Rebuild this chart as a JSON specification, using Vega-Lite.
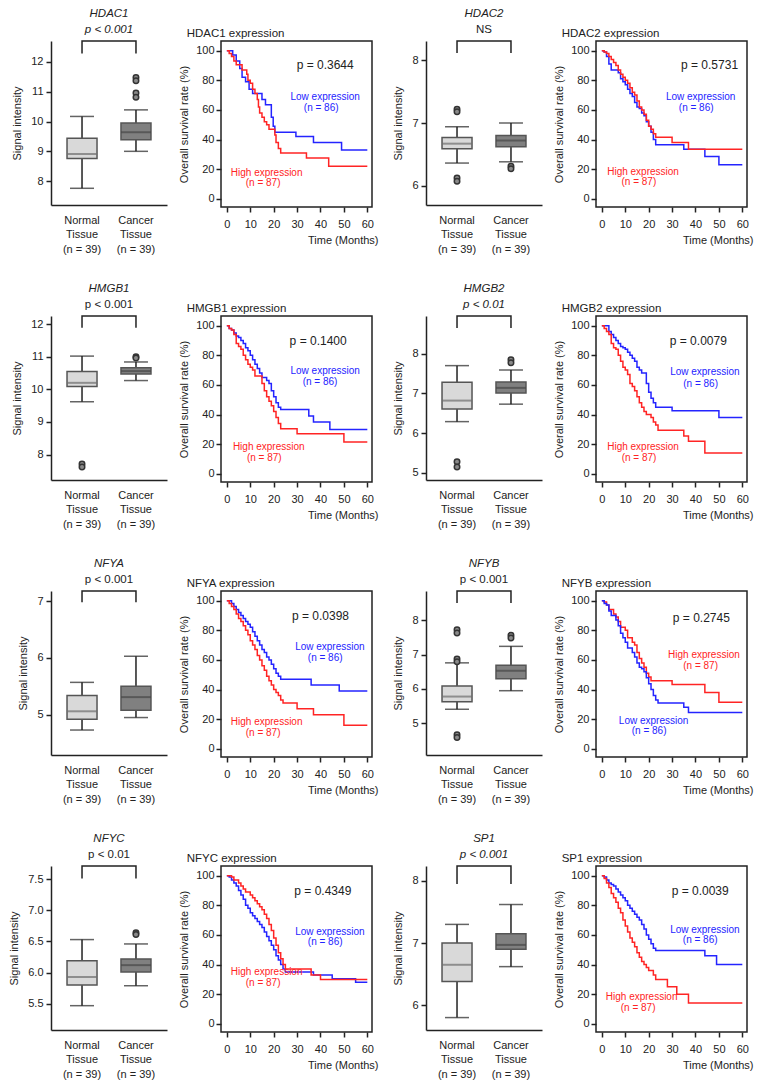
{
"$schema":"https://vega.github.io/schema/vega-lite/v6.json",
"padding":{"left":8,"top":8,"right":2,"bottom":2},
"config":{"font":"Liberation Sans","view":{"stroke":null},
 "axis":{"labelFontSize":11,"labelColor":"#222","titleFontSize":11,"titleFontWeight":"normal","titleColor":"#222","domainColor":"#222","tickColor":"#222","domainWidth":1.5,"tickWidth":1.5,"tickSize":5,"grid":false,"labelFont":"Liberation Sans","titleFont":"Liberation Sans"},
 "title":{"fontSize":11.5,"fontWeight":"normal","subtitleFontSize":11.5,"color":"#222","subtitleColor":"#222","offset":3,"subtitlePadding":4,"font":"Liberation Sans","subtitleFont":"Liberation Sans"}},
"resolve":{"scale":{"color":"independent","fill":"independent"}},
"datasets":{
"box":[
{"gene":"HDAC1","g":"Normal","lo":7.76,"q1":8.76,"med":8.91,"q3":9.44,"hi":10.17},
{"gene":"HDAC1","g":"Cancer","lo":9.0,"q1":9.39,"med":9.64,"q3":9.95,"hi":10.39},
{"gene":"HDAC2","g":"Normal","lo":6.36,"q1":6.59,"med":6.67,"q3":6.77,"hi":6.94},
{"gene":"HDAC2","g":"Cancer","lo":6.38,"q1":6.62,"med":6.72,"q3":6.8,"hi":7.0},
{"gene":"HMGB1","g":"Normal","lo":9.62,"q1":10.09,"med":10.2,"q3":10.55,"hi":11.02},
{"gene":"HMGB1","g":"Cancer","lo":10.27,"q1":10.47,"med":10.56,"q3":10.66,"hi":10.84},
{"gene":"HMGB2","g":"Normal","lo":6.29,"q1":6.61,"med":6.82,"q3":7.28,"hi":7.7},
{"gene":"HMGB2","g":"Cancer","lo":6.73,"q1":7.01,"med":7.14,"q3":7.29,"hi":7.59},
{"gene":"NFYA","g":"Normal","lo":4.73,"q1":4.92,"med":5.06,"q3":5.34,"hi":5.57},
{"gene":"NFYA","g":"Cancer","lo":4.95,"q1":5.08,"med":5.31,"q3":5.5,"hi":6.03},
{"gene":"NFYB","g":"Normal","lo":5.41,"q1":5.63,"med":5.78,"q3":6.09,"hi":6.76},
{"gene":"NFYB","g":"Cancer","lo":5.95,"q1":6.3,"med":6.53,"q3":6.69,"hi":7.24},
{"gene":"NFYC","g":"Normal","lo":5.47,"q1":5.8,"med":5.93,"q3":6.19,"hi":6.53},
{"gene":"NFYC","g":"Cancer","lo":5.79,"q1":6.01,"med":6.12,"q3":6.22,"hi":6.46},
{"gene":"SP1","g":"Normal","lo":5.8,"q1":6.38,"med":6.65,"q3":7.0,"hi":7.3},
{"gene":"SP1","g":"Cancer","lo":6.62,"q1":6.9,"med":6.97,"q3":7.15,"hi":7.62}],
"out":[
{"gene":"HDAC1","g":"Cancer","v":11.48},{"gene":"HDAC1","g":"Cancer","v":11.37},{"gene":"HDAC1","g":"Cancer","v":10.96},{"gene":"HDAC1","g":"Cancer","v":10.81},
{"gene":"HDAC2","g":"Normal","v":7.22},{"gene":"HDAC2","g":"Normal","v":7.18},{"gene":"HDAC2","g":"Normal","v":6.12},{"gene":"HDAC2","g":"Normal","v":6.07},{"gene":"HDAC2","g":"Cancer","v":6.31},{"gene":"HDAC2","g":"Cancer","v":6.27},
{"gene":"HMGB1","g":"Normal","v":7.71},{"gene":"HMGB1","g":"Normal","v":7.62},{"gene":"HMGB1","g":"Cancer","v":11.0},{"gene":"HMGB1","g":"Cancer","v":10.96},
{"gene":"HMGB2","g":"Normal","v":5.28},{"gene":"HMGB2","g":"Normal","v":5.15},{"gene":"HMGB2","g":"Cancer","v":7.85},{"gene":"HMGB2","g":"Cancer","v":7.77},
{"gene":"NFYB","g":"Normal","v":7.72},{"gene":"NFYB","g":"Normal","v":7.63},{"gene":"NFYB","g":"Normal","v":6.87},{"gene":"NFYB","g":"Normal","v":6.79},{"gene":"NFYB","g":"Normal","v":4.67},{"gene":"NFYB","g":"Normal","v":4.59},{"gene":"NFYB","g":"Cancer","v":7.56},{"gene":"NFYB","g":"Cancer","v":7.48},
{"gene":"NFYC","g":"Cancer","v":6.64},{"gene":"NFYC","g":"Cancer","v":6.61}],
"brk":[
{"gene":"HDAC1","g":"Normal","o":1,"v":12.28},{"gene":"HDAC1","g":"Normal","o":2,"v":12.7},{"gene":"HDAC1","g":"Cancer","o":3,"v":12.7},{"gene":"HDAC1","g":"Cancer","o":4,"v":12.28},
{"gene":"HDAC2","g":"Normal","o":1,"v":8.12},{"gene":"HDAC2","g":"Normal","o":2,"v":8.31},{"gene":"HDAC2","g":"Cancer","o":3,"v":8.31},{"gene":"HDAC2","g":"Cancer","o":4,"v":8.12},
{"gene":"HMGB1","g":"Normal","o":1,"v":11.89},{"gene":"HMGB1","g":"Normal","o":2,"v":12.25},{"gene":"HMGB1","g":"Cancer","o":3,"v":12.25},{"gene":"HMGB1","g":"Cancer","o":4,"v":11.89},
{"gene":"HMGB2","g":"Normal","o":1,"v":8.65},{"gene":"HMGB2","g":"Normal","o":2,"v":8.95},{"gene":"HMGB2","g":"Cancer","o":3,"v":8.95},{"gene":"HMGB2","g":"Cancer","o":4,"v":8.65},
{"gene":"NFYA","g":"Normal","o":1,"v":6.98},{"gene":"NFYA","g":"Normal","o":2,"v":7.18},{"gene":"NFYA","g":"Cancer","o":3,"v":7.18},{"gene":"NFYA","g":"Cancer","o":4,"v":6.98},
{"gene":"NFYB","g":"Normal","o":1,"v":8.5},{"gene":"NFYB","g":"Normal","o":2,"v":8.85},{"gene":"NFYB","g":"Cancer","o":3,"v":8.85},{"gene":"NFYB","g":"Cancer","o":4,"v":8.5},
{"gene":"NFYC","g":"Normal","o":1,"v":7.51},{"gene":"NFYC","g":"Normal","o":2,"v":7.71},{"gene":"NFYC","g":"Cancer","o":3,"v":7.71},{"gene":"NFYC","g":"Cancer","o":4,"v":7.51},
{"gene":"SP1","g":"Normal","o":1,"v":7.95},{"gene":"SP1","g":"Normal","o":2,"v":8.24},{"gene":"SP1","g":"Cancer","o":3,"v":8.24},{"gene":"SP1","g":"Cancer","o":4,"v":7.95}],
"km":[
{"gene":"HDAC1","grp":"Low","t":0,"s":100},{"gene":"HDAC1","grp":"Low","t":2.5,"s":97},{"gene":"HDAC1","grp":"Low","t":4,"s":93},{"gene":"HDAC1","grp":"Low","t":5.5,"s":88},{"gene":"HDAC1","grp":"Low","t":6.5,"s":82},{"gene":"HDAC1","grp":"Low","t":8,"s":79},{"gene":"HDAC1","grp":"Low","t":9.5,"s":74},{"gene":"HDAC1","grp":"Low","t":11,"s":71},{"gene":"HDAC1","grp":"Low","t":15,"s":67},{"gene":"HDAC1","grp":"Low","t":16.5,"s":63.5},{"gene":"HDAC1","grp":"Low","t":19,"s":55},{"gene":"HDAC1","grp":"Low","t":19.8,"s":49},{"gene":"HDAC1","grp":"Low","t":20.5,"s":45},{"gene":"HDAC1","grp":"Low","t":29.5,"s":42},{"gene":"HDAC1","grp":"Low","t":37,"s":38},{"gene":"HDAC1","grp":"Low","t":49,"s":33},{"gene":"HDAC1","grp":"Low","t":60,"s":33},
{"gene":"HDAC1","grp":"High","t":0,"s":100},{"gene":"HDAC1","grp":"High","t":1,"s":98},{"gene":"HDAC1","grp":"High","t":2,"s":96},{"gene":"HDAC1","grp":"High","t":3,"s":93},{"gene":"HDAC1","grp":"High","t":4,"s":90.5},{"gene":"HDAC1","grp":"High","t":6.5,"s":87},{"gene":"HDAC1","grp":"High","t":8.5,"s":84},{"gene":"HDAC1","grp":"High","t":9,"s":80},{"gene":"HDAC1","grp":"High","t":10,"s":78},{"gene":"HDAC1","grp":"High","t":11,"s":74},{"gene":"HDAC1","grp":"High","t":12,"s":71},{"gene":"HDAC1","grp":"High","t":13,"s":67},{"gene":"HDAC1","grp":"High","t":13.5,"s":62},{"gene":"HDAC1","grp":"High","t":14,"s":58},{"gene":"HDAC1","grp":"High","t":15,"s":55},{"gene":"HDAC1","grp":"High","t":16,"s":52},{"gene":"HDAC1","grp":"High","t":17,"s":50},{"gene":"HDAC1","grp":"High","t":18,"s":47},{"gene":"HDAC1","grp":"High","t":20.5,"s":43},{"gene":"HDAC1","grp":"High","t":21,"s":38},{"gene":"HDAC1","grp":"High","t":22,"s":34},{"gene":"HDAC1","grp":"High","t":23,"s":31},{"gene":"HDAC1","grp":"High","t":34,"s":27.5},{"gene":"HDAC1","grp":"High","t":43.5,"s":22},{"gene":"HDAC1","grp":"High","t":60,"s":22},
{"gene":"HDAC2","grp":"Low","t":0,"s":100},{"gene":"HDAC2","grp":"Low","t":1,"s":99},{"gene":"HDAC2","grp":"Low","t":2,"s":96},{"gene":"HDAC2","grp":"Low","t":3,"s":91},{"gene":"HDAC2","grp":"Low","t":4,"s":87},{"gene":"HDAC2","grp":"Low","t":7,"s":85},{"gene":"HDAC2","grp":"Low","t":8,"s":81},{"gene":"HDAC2","grp":"Low","t":9,"s":79},{"gene":"HDAC2","grp":"Low","t":10,"s":77},{"gene":"HDAC2","grp":"Low","t":11,"s":74},{"gene":"HDAC2","grp":"Low","t":12,"s":71},{"gene":"HDAC2","grp":"Low","t":13,"s":69},{"gene":"HDAC2","grp":"Low","t":14,"s":65},{"gene":"HDAC2","grp":"Low","t":15,"s":62},{"gene":"HDAC2","grp":"Low","t":16,"s":61},{"gene":"HDAC2","grp":"Low","t":17,"s":58},{"gene":"HDAC2","grp":"Low","t":18,"s":56},{"gene":"HDAC2","grp":"Low","t":19,"s":52},{"gene":"HDAC2","grp":"Low","t":20,"s":49},{"gene":"HDAC2","grp":"Low","t":21,"s":45},{"gene":"HDAC2","grp":"Low","t":22,"s":40},{"gene":"HDAC2","grp":"Low","t":23,"s":36.5},{"gene":"HDAC2","grp":"Low","t":35,"s":33.5},{"gene":"HDAC2","grp":"Low","t":44,"s":28.5},{"gene":"HDAC2","grp":"Low","t":50,"s":23},{"gene":"HDAC2","grp":"Low","t":60,"s":23},
{"gene":"HDAC2","grp":"High","t":0,"s":100},{"gene":"HDAC2","grp":"High","t":1,"s":99},{"gene":"HDAC2","grp":"High","t":2,"s":98},{"gene":"HDAC2","grp":"High","t":3,"s":96},{"gene":"HDAC2","grp":"High","t":4,"s":94},{"gene":"HDAC2","grp":"High","t":5,"s":92},{"gene":"HDAC2","grp":"High","t":6,"s":90},{"gene":"HDAC2","grp":"High","t":7,"s":87},{"gene":"HDAC2","grp":"High","t":8,"s":84},{"gene":"HDAC2","grp":"High","t":9,"s":82},{"gene":"HDAC2","grp":"High","t":10,"s":80},{"gene":"HDAC2","grp":"High","t":11,"s":78},{"gene":"HDAC2","grp":"High","t":12,"s":75},{"gene":"HDAC2","grp":"High","t":13,"s":72},{"gene":"HDAC2","grp":"High","t":14,"s":70},{"gene":"HDAC2","grp":"High","t":15,"s":66},{"gene":"HDAC2","grp":"High","t":16,"s":62},{"gene":"HDAC2","grp":"High","t":17,"s":60},{"gene":"HDAC2","grp":"High","t":18,"s":57},{"gene":"HDAC2","grp":"High","t":19,"s":53},{"gene":"HDAC2","grp":"High","t":20,"s":49},{"gene":"HDAC2","grp":"High","t":21,"s":47},{"gene":"HDAC2","grp":"High","t":22,"s":44},{"gene":"HDAC2","grp":"High","t":23,"s":41.5},{"gene":"HDAC2","grp":"High","t":30,"s":38},{"gene":"HDAC2","grp":"High","t":37,"s":33.5},{"gene":"HDAC2","grp":"High","t":60,"s":33.5},
{"gene":"HMGB1","grp":"Low","t":0,"s":100},{"gene":"HMGB1","grp":"Low","t":1,"s":98},{"gene":"HMGB1","grp":"Low","t":2,"s":97},{"gene":"HMGB1","grp":"Low","t":3,"s":95},{"gene":"HMGB1","grp":"Low","t":4,"s":93},{"gene":"HMGB1","grp":"Low","t":5,"s":92},{"gene":"HMGB1","grp":"Low","t":6,"s":90},{"gene":"HMGB1","grp":"Low","t":7,"s":88},{"gene":"HMGB1","grp":"Low","t":8,"s":85},{"gene":"HMGB1","grp":"Low","t":9,"s":83},{"gene":"HMGB1","grp":"Low","t":10,"s":80},{"gene":"HMGB1","grp":"Low","t":11,"s":77},{"gene":"HMGB1","grp":"Low","t":12,"s":74},{"gene":"HMGB1","grp":"Low","t":13,"s":71},{"gene":"HMGB1","grp":"Low","t":14,"s":68},{"gene":"HMGB1","grp":"Low","t":15,"s":65},{"gene":"HMGB1","grp":"Low","t":17,"s":63},{"gene":"HMGB1","grp":"Low","t":18,"s":61},{"gene":"HMGB1","grp":"Low","t":19,"s":56},{"gene":"HMGB1","grp":"Low","t":20,"s":52},{"gene":"HMGB1","grp":"Low","t":21,"s":48},{"gene":"HMGB1","grp":"Low","t":22,"s":45},{"gene":"HMGB1","grp":"Low","t":23,"s":43.5},{"gene":"HMGB1","grp":"Low","t":35,"s":39},{"gene":"HMGB1","grp":"Low","t":37,"s":35},{"gene":"HMGB1","grp":"Low","t":44,"s":30},{"gene":"HMGB1","grp":"Low","t":60,"s":30},
{"gene":"HMGB1","grp":"High","t":0,"s":100},{"gene":"HMGB1","grp":"High","t":1,"s":98},{"gene":"HMGB1","grp":"High","t":2,"s":97},{"gene":"HMGB1","grp":"High","t":3,"s":94},{"gene":"HMGB1","grp":"High","t":4,"s":88},{"gene":"HMGB1","grp":"High","t":5,"s":86},{"gene":"HMGB1","grp":"High","t":6,"s":84},{"gene":"HMGB1","grp":"High","t":7,"s":80},{"gene":"HMGB1","grp":"High","t":8,"s":77},{"gene":"HMGB1","grp":"High","t":9,"s":74},{"gene":"HMGB1","grp":"High","t":10,"s":72},{"gene":"HMGB1","grp":"High","t":11,"s":70},{"gene":"HMGB1","grp":"High","t":12,"s":66},{"gene":"HMGB1","grp":"High","t":15,"s":61},{"gene":"HMGB1","grp":"High","t":16,"s":56},{"gene":"HMGB1","grp":"High","t":17,"s":52},{"gene":"HMGB1","grp":"High","t":18,"s":49},{"gene":"HMGB1","grp":"High","t":19,"s":46},{"gene":"HMGB1","grp":"High","t":20,"s":42},{"gene":"HMGB1","grp":"High","t":21,"s":38},{"gene":"HMGB1","grp":"High","t":22,"s":34},{"gene":"HMGB1","grp":"High","t":23,"s":30.5},{"gene":"HMGB1","grp":"High","t":30,"s":27},{"gene":"HMGB1","grp":"High","t":50,"s":21.5},{"gene":"HMGB1","grp":"High","t":60,"s":21.5},
{"gene":"HMGB2","grp":"Low","t":0,"s":100},{"gene":"HMGB2","grp":"Low","t":3,"s":96},{"gene":"HMGB2","grp":"Low","t":4,"s":94},{"gene":"HMGB2","grp":"Low","t":5,"s":92},{"gene":"HMGB2","grp":"Low","t":6,"s":90},{"gene":"HMGB2","grp":"Low","t":7,"s":88},{"gene":"HMGB2","grp":"Low","t":8,"s":86},{"gene":"HMGB2","grp":"Low","t":9,"s":85},{"gene":"HMGB2","grp":"Low","t":10,"s":84},{"gene":"HMGB2","grp":"Low","t":11,"s":82},{"gene":"HMGB2","grp":"Low","t":12,"s":80},{"gene":"HMGB2","grp":"Low","t":13,"s":78},{"gene":"HMGB2","grp":"Low","t":14,"s":76},{"gene":"HMGB2","grp":"Low","t":15,"s":72},{"gene":"HMGB2","grp":"Low","t":16,"s":70},{"gene":"HMGB2","grp":"Low","t":17,"s":68},{"gene":"HMGB2","grp":"Low","t":19,"s":61},{"gene":"HMGB2","grp":"Low","t":20,"s":55},{"gene":"HMGB2","grp":"Low","t":21,"s":51},{"gene":"HMGB2","grp":"Low","t":22,"s":48},{"gene":"HMGB2","grp":"Low","t":23,"s":45},{"gene":"HMGB2","grp":"Low","t":30,"s":42.5},{"gene":"HMGB2","grp":"Low","t":50,"s":38},{"gene":"HMGB2","grp":"Low","t":60,"s":38},
{"gene":"HMGB2","grp":"High","t":0,"s":100},{"gene":"HMGB2","grp":"High","t":1,"s":98},{"gene":"HMGB2","grp":"High","t":2,"s":96},{"gene":"HMGB2","grp":"High","t":3,"s":94},{"gene":"HMGB2","grp":"High","t":4,"s":88},{"gene":"HMGB2","grp":"High","t":5,"s":85},{"gene":"HMGB2","grp":"High","t":6,"s":84},{"gene":"HMGB2","grp":"High","t":7,"s":80},{"gene":"HMGB2","grp":"High","t":8,"s":76},{"gene":"HMGB2","grp":"High","t":9,"s":72},{"gene":"HMGB2","grp":"High","t":10,"s":70},{"gene":"HMGB2","grp":"High","t":11,"s":67},{"gene":"HMGB2","grp":"High","t":12,"s":61},{"gene":"HMGB2","grp":"High","t":13,"s":59},{"gene":"HMGB2","grp":"High","t":14,"s":56},{"gene":"HMGB2","grp":"High","t":15,"s":52},{"gene":"HMGB2","grp":"High","t":16,"s":48},{"gene":"HMGB2","grp":"High","t":17,"s":45},{"gene":"HMGB2","grp":"High","t":18,"s":42},{"gene":"HMGB2","grp":"High","t":19,"s":40},{"gene":"HMGB2","grp":"High","t":21,"s":38},{"gene":"HMGB2","grp":"High","t":22,"s":35},{"gene":"HMGB2","grp":"High","t":23,"s":33},{"gene":"HMGB2","grp":"High","t":24,"s":29.5},{"gene":"HMGB2","grp":"High","t":35,"s":25.5},{"gene":"HMGB2","grp":"High","t":37,"s":22},{"gene":"HMGB2","grp":"High","t":44,"s":14},{"gene":"HMGB2","grp":"High","t":60,"s":14},
{"gene":"NFYA","grp":"Low","t":0,"s":100},{"gene":"NFYA","grp":"Low","t":2,"s":98},{"gene":"NFYA","grp":"Low","t":3,"s":96},{"gene":"NFYA","grp":"Low","t":4,"s":94},{"gene":"NFYA","grp":"Low","t":5,"s":92},{"gene":"NFYA","grp":"Low","t":6,"s":90},{"gene":"NFYA","grp":"Low","t":7,"s":88},{"gene":"NFYA","grp":"Low","t":8,"s":86},{"gene":"NFYA","grp":"Low","t":9,"s":84},{"gene":"NFYA","grp":"Low","t":10,"s":82},{"gene":"NFYA","grp":"Low","t":11,"s":79},{"gene":"NFYA","grp":"Low","t":12,"s":76},{"gene":"NFYA","grp":"Low","t":13,"s":73},{"gene":"NFYA","grp":"Low","t":14,"s":70},{"gene":"NFYA","grp":"Low","t":15,"s":67},{"gene":"NFYA","grp":"Low","t":16,"s":65},{"gene":"NFYA","grp":"Low","t":17,"s":62},{"gene":"NFYA","grp":"Low","t":18,"s":60},{"gene":"NFYA","grp":"Low","t":19,"s":57},{"gene":"NFYA","grp":"Low","t":20,"s":54},{"gene":"NFYA","grp":"Low","t":21,"s":51},{"gene":"NFYA","grp":"Low","t":22,"s":49},{"gene":"NFYA","grp":"Low","t":23,"s":47},{"gene":"NFYA","grp":"Low","t":36,"s":43},{"gene":"NFYA","grp":"Low","t":48,"s":39},{"gene":"NFYA","grp":"Low","t":60,"s":39},
{"gene":"NFYA","grp":"High","t":0,"s":100},{"gene":"NFYA","grp":"High","t":1,"s":98},{"gene":"NFYA","grp":"High","t":2,"s":96},{"gene":"NFYA","grp":"High","t":3,"s":94},{"gene":"NFYA","grp":"High","t":4,"s":91},{"gene":"NFYA","grp":"High","t":5,"s":88},{"gene":"NFYA","grp":"High","t":6,"s":86},{"gene":"NFYA","grp":"High","t":7,"s":83},{"gene":"NFYA","grp":"High","t":8,"s":80},{"gene":"NFYA","grp":"High","t":9,"s":77},{"gene":"NFYA","grp":"High","t":10,"s":73},{"gene":"NFYA","grp":"High","t":11,"s":70},{"gene":"NFYA","grp":"High","t":12,"s":67},{"gene":"NFYA","grp":"High","t":13,"s":63},{"gene":"NFYA","grp":"High","t":14,"s":60},{"gene":"NFYA","grp":"High","t":15,"s":56},{"gene":"NFYA","grp":"High","t":16,"s":53},{"gene":"NFYA","grp":"High","t":17,"s":49},{"gene":"NFYA","grp":"High","t":18,"s":46},{"gene":"NFYA","grp":"High","t":19,"s":43},{"gene":"NFYA","grp":"High","t":20,"s":40},{"gene":"NFYA","grp":"High","t":21,"s":38},{"gene":"NFYA","grp":"High","t":22,"s":36},{"gene":"NFYA","grp":"High","t":23,"s":33},{"gene":"NFYA","grp":"High","t":24,"s":31},{"gene":"NFYA","grp":"High","t":30,"s":27},{"gene":"NFYA","grp":"High","t":37,"s":23},{"gene":"NFYA","grp":"High","t":50,"s":16},{"gene":"NFYA","grp":"High","t":60,"s":16},
{"gene":"NFYB","grp":"High","t":0,"s":100},{"gene":"NFYB","grp":"High","t":1,"s":99},{"gene":"NFYB","grp":"High","t":2,"s":97},{"gene":"NFYB","grp":"High","t":3,"s":94},{"gene":"NFYB","grp":"High","t":5,"s":91},{"gene":"NFYB","grp":"High","t":6,"s":89},{"gene":"NFYB","grp":"High","t":7,"s":86},{"gene":"NFYB","grp":"High","t":8,"s":82},{"gene":"NFYB","grp":"High","t":10,"s":80},{"gene":"NFYB","grp":"High","t":11,"s":75},{"gene":"NFYB","grp":"High","t":13,"s":72},{"gene":"NFYB","grp":"High","t":14,"s":70},{"gene":"NFYB","grp":"High","t":15,"s":65},{"gene":"NFYB","grp":"High","t":16,"s":61},{"gene":"NFYB","grp":"High","t":17,"s":58},{"gene":"NFYB","grp":"High","t":18,"s":55},{"gene":"NFYB","grp":"High","t":19,"s":51},{"gene":"NFYB","grp":"High","t":20,"s":48.5},{"gene":"NFYB","grp":"High","t":21,"s":46},{"gene":"NFYB","grp":"High","t":30,"s":43.5},{"gene":"NFYB","grp":"High","t":44,"s":38},{"gene":"NFYB","grp":"High","t":50,"s":31.5},{"gene":"NFYB","grp":"High","t":60,"s":31.5},
{"gene":"NFYB","grp":"Low","t":0,"s":100},{"gene":"NFYB","grp":"Low","t":1,"s":98},{"gene":"NFYB","grp":"Low","t":2,"s":97},{"gene":"NFYB","grp":"Low","t":3,"s":93},{"gene":"NFYB","grp":"Low","t":4,"s":90},{"gene":"NFYB","grp":"Low","t":6,"s":87},{"gene":"NFYB","grp":"Low","t":7,"s":83},{"gene":"NFYB","grp":"Low","t":8,"s":78},{"gene":"NFYB","grp":"Low","t":9,"s":75},{"gene":"NFYB","grp":"Low","t":10,"s":72},{"gene":"NFYB","grp":"Low","t":11,"s":68},{"gene":"NFYB","grp":"Low","t":13,"s":65},{"gene":"NFYB","grp":"Low","t":14,"s":62},{"gene":"NFYB","grp":"Low","t":15,"s":58},{"gene":"NFYB","grp":"Low","t":16,"s":55},{"gene":"NFYB","grp":"Low","t":17,"s":54},{"gene":"NFYB","grp":"Low","t":18,"s":52},{"gene":"NFYB","grp":"Low","t":19,"s":48},{"gene":"NFYB","grp":"Low","t":20,"s":44},{"gene":"NFYB","grp":"Low","t":21,"s":40},{"gene":"NFYB","grp":"Low","t":22,"s":36},{"gene":"NFYB","grp":"Low","t":23,"s":33},{"gene":"NFYB","grp":"Low","t":24,"s":31},{"gene":"NFYB","grp":"Low","t":35,"s":28},{"gene":"NFYB","grp":"Low","t":37,"s":24.5},{"gene":"NFYB","grp":"Low","t":60,"s":24.5},
{"gene":"NFYC","grp":"Low","t":0,"s":100},{"gene":"NFYC","grp":"Low","t":1,"s":99},{"gene":"NFYC","grp":"Low","t":2,"s":97},{"gene":"NFYC","grp":"Low","t":3,"s":95},{"gene":"NFYC","grp":"Low","t":4,"s":93},{"gene":"NFYC","grp":"Low","t":5,"s":90},{"gene":"NFYC","grp":"Low","t":6,"s":87},{"gene":"NFYC","grp":"Low","t":7,"s":84},{"gene":"NFYC","grp":"Low","t":8,"s":80},{"gene":"NFYC","grp":"Low","t":9,"s":78},{"gene":"NFYC","grp":"Low","t":10,"s":75},{"gene":"NFYC","grp":"Low","t":11,"s":73},{"gene":"NFYC","grp":"Low","t":12,"s":71},{"gene":"NFYC","grp":"Low","t":13,"s":69},{"gene":"NFYC","grp":"Low","t":14,"s":67},{"gene":"NFYC","grp":"Low","t":15,"s":65},{"gene":"NFYC","grp":"Low","t":16,"s":62},{"gene":"NFYC","grp":"Low","t":17,"s":59},{"gene":"NFYC","grp":"Low","t":18,"s":56},{"gene":"NFYC","grp":"Low","t":19,"s":53},{"gene":"NFYC","grp":"Low","t":20,"s":50},{"gene":"NFYC","grp":"Low","t":21,"s":46},{"gene":"NFYC","grp":"Low","t":22,"s":43},{"gene":"NFYC","grp":"Low","t":23,"s":40},{"gene":"NFYC","grp":"Low","t":24,"s":37},{"gene":"NFYC","grp":"Low","t":25,"s":35},{"gene":"NFYC","grp":"Low","t":37,"s":33},{"gene":"NFYC","grp":"Low","t":45,"s":30.5},{"gene":"NFYC","grp":"Low","t":55,"s":28},{"gene":"NFYC","grp":"Low","t":60,"s":28},
{"gene":"NFYC","grp":"High","t":0,"s":100},{"gene":"NFYC","grp":"High","t":2,"s":99},{"gene":"NFYC","grp":"High","t":3,"s":97},{"gene":"NFYC","grp":"High","t":5,"s":95},{"gene":"NFYC","grp":"High","t":6,"s":93},{"gene":"NFYC","grp":"High","t":7,"s":91},{"gene":"NFYC","grp":"High","t":8,"s":89},{"gene":"NFYC","grp":"High","t":10,"s":87},{"gene":"NFYC","grp":"High","t":11,"s":85},{"gene":"NFYC","grp":"High","t":12,"s":83},{"gene":"NFYC","grp":"High","t":13,"s":81},{"gene":"NFYC","grp":"High","t":14,"s":79},{"gene":"NFYC","grp":"High","t":15,"s":77},{"gene":"NFYC","grp":"High","t":16,"s":74},{"gene":"NFYC","grp":"High","t":17,"s":71},{"gene":"NFYC","grp":"High","t":18,"s":67},{"gene":"NFYC","grp":"High","t":19,"s":63},{"gene":"NFYC","grp":"High","t":20,"s":58},{"gene":"NFYC","grp":"High","t":21,"s":53},{"gene":"NFYC","grp":"High","t":22,"s":48},{"gene":"NFYC","grp":"High","t":23,"s":44},{"gene":"NFYC","grp":"High","t":24,"s":40},{"gene":"NFYC","grp":"High","t":25,"s":37},{"gene":"NFYC","grp":"High","t":36,"s":33},{"gene":"NFYC","grp":"High","t":40,"s":30},{"gene":"NFYC","grp":"High","t":60,"s":30},
{"gene":"SP1","grp":"Low","t":0,"s":100},{"gene":"SP1","grp":"Low","t":1,"s":99},{"gene":"SP1","grp":"Low","t":2,"s":97},{"gene":"SP1","grp":"Low","t":3,"s":95},{"gene":"SP1","grp":"Low","t":4,"s":94},{"gene":"SP1","grp":"Low","t":5,"s":93},{"gene":"SP1","grp":"Low","t":6,"s":91},{"gene":"SP1","grp":"Low","t":7,"s":89},{"gene":"SP1","grp":"Low","t":8,"s":87},{"gene":"SP1","grp":"Low","t":9,"s":85},{"gene":"SP1","grp":"Low","t":10,"s":83},{"gene":"SP1","grp":"Low","t":11,"s":80},{"gene":"SP1","grp":"Low","t":12,"s":78},{"gene":"SP1","grp":"Low","t":13,"s":76},{"gene":"SP1","grp":"Low","t":14,"s":74},{"gene":"SP1","grp":"Low","t":15,"s":72},{"gene":"SP1","grp":"Low","t":16,"s":70},{"gene":"SP1","grp":"Low","t":17,"s":67},{"gene":"SP1","grp":"Low","t":18,"s":64},{"gene":"SP1","grp":"Low","t":19,"s":60},{"gene":"SP1","grp":"Low","t":20,"s":57},{"gene":"SP1","grp":"Low","t":21,"s":54},{"gene":"SP1","grp":"Low","t":22,"s":51},{"gene":"SP1","grp":"Low","t":23,"s":49.5},{"gene":"SP1","grp":"Low","t":44,"s":46},{"gene":"SP1","grp":"Low","t":49,"s":40},{"gene":"SP1","grp":"Low","t":60,"s":40},
{"gene":"SP1","grp":"High","t":0,"s":100},{"gene":"SP1","grp":"High","t":1,"s":98},{"gene":"SP1","grp":"High","t":2,"s":95},{"gene":"SP1","grp":"High","t":3,"s":92},{"gene":"SP1","grp":"High","t":4,"s":88},{"gene":"SP1","grp":"High","t":5,"s":85},{"gene":"SP1","grp":"High","t":6,"s":82},{"gene":"SP1","grp":"High","t":7,"s":78},{"gene":"SP1","grp":"High","t":8,"s":75},{"gene":"SP1","grp":"High","t":9,"s":70},{"gene":"SP1","grp":"High","t":10,"s":66},{"gene":"SP1","grp":"High","t":11,"s":62},{"gene":"SP1","grp":"High","t":12,"s":58},{"gene":"SP1","grp":"High","t":13,"s":55},{"gene":"SP1","grp":"High","t":14,"s":52},{"gene":"SP1","grp":"High","t":15,"s":48},{"gene":"SP1","grp":"High","t":16,"s":45},{"gene":"SP1","grp":"High","t":17,"s":42},{"gene":"SP1","grp":"High","t":18,"s":40},{"gene":"SP1","grp":"High","t":19,"s":38},{"gene":"SP1","grp":"High","t":20,"s":36},{"gene":"SP1","grp":"High","t":22,"s":33},{"gene":"SP1","grp":"High","t":23,"s":30},{"gene":"SP1","grp":"High","t":28,"s":25},{"gene":"SP1","grp":"High","t":32,"s":20},{"gene":"SP1","grp":"High","t":37,"s":14},{"gene":"SP1","grp":"High","t":60,"s":14}],
"kmtxt":[
{"gene":"HDAC1","grp":"Low","t":42,"s":68.5,"label":"Low expression"},{"gene":"HDAC1","grp":"Low","t":40.3,"s":61.5,"label":"(n = 86)"},{"gene":"HDAC1","grp":"High","t":17,"s":17.5,"label":"High expression"},{"gene":"HDAC1","grp":"High","t":15.5,"s":10.8,"label":"(n = 87)"},
{"gene":"HDAC2","grp":"Low","t":42.2,"s":68.8,"label":"Low expression"},{"gene":"HDAC2","grp":"Low","t":40.3,"s":61.4,"label":"(n = 86)"},{"gene":"HDAC2","grp":"High","t":17.6,"s":17.9,"label":"High expression"},{"gene":"HDAC2","grp":"High","t":15.8,"s":11.2,"label":"(n = 87)"},
{"gene":"HMGB1","grp":"Low","t":42,"s":69.7,"label":"Low expression"},{"gene":"HMGB1","grp":"Low","t":39.8,"s":62.3,"label":"(n = 86)"},{"gene":"HMGB1","grp":"High","t":17.9,"s":18.2,"label":"High expression"},{"gene":"HMGB1","grp":"High","t":16,"s":11,"label":"(n = 87)"},
{"gene":"HMGB2","grp":"Low","t":44,"s":68.4,"label":"Low expression"},{"gene":"HMGB2","grp":"Low","t":42.2,"s":60.8,"label":"(n = 86)"},{"gene":"HMGB2","grp":"High","t":17.6,"s":18.2,"label":"High expression"},{"gene":"HMGB2","grp":"High","t":15.9,"s":11,"label":"(n = 87)"},
{"gene":"NFYA","grp":"Low","t":44,"s":68.5,"label":"Low expression"},{"gene":"NFYA","grp":"Low","t":42,"s":61.5,"label":"(n = 86)"},{"gene":"NFYA","grp":"High","t":17,"s":18,"label":"High expression"},{"gene":"NFYA","grp":"High","t":15.5,"s":11,"label":"(n = 87)"},
{"gene":"NFYB","grp":"High","t":43.6,"s":63,"label":"High expression"},{"gene":"NFYB","grp":"High","t":42.2,"s":56,"label":"(n = 87)"},{"gene":"NFYB","grp":"Low","t":22.1,"s":18.9,"label":"Low expression"},{"gene":"NFYB","grp":"Low","t":20.2,"s":12.2,"label":"(n = 86)"},
{"gene":"NFYC","grp":"Low","t":44,"s":62,"label":"Low expression"},{"gene":"NFYC","grp":"Low","t":42,"s":55,"label":"(n = 86)"},{"gene":"NFYC","grp":"High","t":17,"s":35,"label":"High expression"},{"gene":"NFYC","grp":"High","t":15.5,"s":27.5,"label":"(n = 87)"},
{"gene":"SP1","grp":"Low","t":44,"s":63.5,"label":"Low expression"},{"gene":"SP1","grp":"Low","t":42,"s":56.5,"label":"(n = 86)"},{"gene":"SP1","grp":"High","t":17,"s":18,"label":"High expression"},{"gene":"SP1","grp":"High","t":15.5,"s":11,"label":"(n = 87)"}],
"kmp":[
{"gene":"HDAC1","t":42,"s":90,"label":"p = 0.3644"},{"gene":"HDAC2","t":46,"s":90,"label":"p = 0.5731"},{"gene":"HMGB1","t":39,"s":89.7,"label":"p = 0.1400"},{"gene":"HMGB2","t":41.2,"s":89.7,"label":"p = 0.0079"},
{"gene":"NFYA","t":40,"s":89.7,"label":"p = 0.0398"},{"gene":"NFYB","t":42.5,"s":88.3,"label":"p = 0.2745"},{"gene":"NFYC","t":41,"s":89.7,"label":"p = 0.4349"},{"gene":"SP1","t":42,"s":89.7,"label":"p = 0.0039"}]
},
"columns":4,
"bounds":"flush",
"spacing":{"row":109,"column":54},
"concat":[
{"width":116,"height":164,"title":{"text":"HDAC1","fontStyle":"italic","subtitle":"p < 0.001","subtitleFontStyle":"italic"},
 "encoding":{"x":{"field":"g","type":"nominal","scale":{"domain":["Normal","Cancer"],"paddingInner":0.05,"paddingOuter":0.1},"axis":{"title":null,"labelAngle":0,"ticks":false,"labelPadding":9,"labelLineHeight":14.5,"labelBaseline":"top","labelExpr":"datum.value == 'Normal' ? ['Normal','Tissue','(n = 39)'] : ['Cancer','Tissue','(n = 39)']"}}},
 "layer":[
  {"data":{"name":"box"},"transform":[{"filter":"datum.gene=='HDAC1'"}],"layer":[
   {"mark":{"type":"rule","color":"#222","strokeWidth":1.5},"encoding":{"y":{"field":"lo","type":"quantitative","scale":{"domain":[7.2,12.7],"nice":false,"zero":false},"axis":{"values":[8,9,10,11,12],"format":"d","title":"Signal intensity","titlePadding":8,"labelPadding":3}},"y2":{"field":"q1"}}},
   {"mark":{"type":"rule","color":"#222","strokeWidth":1.5},"encoding":{"y":{"field":"q3","type":"quantitative"},"y2":{"field":"hi"}}},
   {"mark":{"type":"tick","color":"#222","size":24,"thickness":1.5},"encoding":{"y":{"field":"lo","type":"quantitative"}}},
   {"mark":{"type":"tick","color":"#222","size":24,"thickness":1.5},"encoding":{"y":{"field":"hi","type":"quantitative"}}},
   {"mark":{"type":"bar","size":30,"stroke":"#555","strokeWidth":1.5},"encoding":{"y":{"field":"q1","type":"quantitative"},"y2":{"field":"q3"},"fill":{"field":"g","type":"nominal","scale":{"domain":["Normal","Cancer"],"range":["#d9d9d9","#808080"]},"legend":null}}},
   {"mark":{"type":"tick","size":30,"thickness":2},"encoding":{"y":{"field":"med","type":"quantitative"},"color":{"field":"g","type":"nominal","scale":{"domain":["Normal","Cancer"],"range":["#6e6e6e","#474747"]},"legend":null}}}]},
  {"data":{"name":"out"},"transform":[{"filter":"datum.gene=='HDAC1'"}],"mark":{"type":"point","filled":true,"fill":"#8a8a8a","stroke":"#333","strokeWidth":1.5,"size":30,"opacity":1},"encoding":{"y":{"field":"v","type":"quantitative"}}},
  {"data":{"name":"brk"},"transform":[{"filter":"datum.gene=='HDAC1'"}],"mark":{"type":"line","color":"#222","strokeWidth":1.5,"clip":false},"encoding":{"y":{"field":"v","type":"quantitative"},"order":{"field":"o"}}}]},
{"width":151,"height":166,"view":{"stroke":"#222","strokeWidth":1.5},"title":{"text":"HDAC1 expression","anchor":"start","dx":8,"offset":2},
 "encoding":{"x":{"field":"t","type":"quantitative","scale":{"domain":[-2.5,62],"nice":false},"axis":{"values":[0,10,20,30,40,50,60],"title":"Time (Months)","domain":false,"labelPadding":6,"titlePadding":5,"titleX":157,"titleAlign":"right"}},
  "y":{"field":"s","type":"quantitative","scale":{"domain":[-5.5,106.5],"nice":false},"axis":{"values":[0,20,40,60,80,100],"title":"Overall survival rate (%)","domain":false,"titlePadding":6,"labelPadding":2}}},
 "layer":[
  {"data":{"name":"km"},"transform":[{"filter":"datum.gene=='HDAC1'"}],"mark":{"type":"line","interpolate":"step-after","strokeWidth":1.5},"encoding":{"color":{"field":"grp","type":"nominal","scale":{"domain":["Low","High"],"range":["#2424ff","#ff2424"]},"legend":null}}},
  {"data":{"name":"kmtxt"},"transform":[{"filter":"datum.gene=='HDAC1'"}],"mark":{"type":"text","fontSize":10},"encoding":{"text":{"field":"label"},"color":{"field":"grp","type":"nominal","scale":{"domain":["Low","High"],"range":["#2424ff","#ff2424"]},"legend":null}}},
  {"data":{"name":"kmp"},"transform":[{"filter":"datum.gene=='HDAC1'"}],"mark":{"type":"text","fontSize":12,"color":"#222"},"encoding":{"text":{"field":"label"}}}]},
{"width":116,"height":164,"title":{"text":"HDAC2","fontStyle":"italic","subtitle":"NS"},
 "encoding":{"x":{"field":"g","type":"nominal","scale":{"domain":["Normal","Cancer"],"paddingInner":0.05,"paddingOuter":0.1},"axis":{"title":null,"labelAngle":0,"ticks":false,"labelPadding":9,"labelLineHeight":14.5,"labelBaseline":"top","labelExpr":"datum.value == 'Normal' ? ['Normal','Tissue','(n = 39)'] : ['Cancer','Tissue','(n = 39)']"}}},
 "layer":[
  {"data":{"name":"box"},"transform":[{"filter":"datum.gene=='HDAC2'"}],"layer":[
   {"mark":{"type":"rule","color":"#222","strokeWidth":1.5},"encoding":{"y":{"field":"lo","type":"quantitative","scale":{"domain":[5.69,8.31],"nice":false,"zero":false},"axis":{"values":[6,7,8],"format":"d","title":"Signal intensity","titlePadding":8,"labelPadding":3}},"y2":{"field":"q1"}}},
   {"mark":{"type":"rule","color":"#222","strokeWidth":1.5},"encoding":{"y":{"field":"q3","type":"quantitative"},"y2":{"field":"hi"}}},
   {"mark":{"type":"tick","color":"#222","size":24,"thickness":1.5},"encoding":{"y":{"field":"lo","type":"quantitative"}}},
   {"mark":{"type":"tick","color":"#222","size":24,"thickness":1.5},"encoding":{"y":{"field":"hi","type":"quantitative"}}},
   {"mark":{"type":"bar","size":30,"stroke":"#555","strokeWidth":1.5},"encoding":{"y":{"field":"q1","type":"quantitative"},"y2":{"field":"q3"},"fill":{"field":"g","type":"nominal","scale":{"domain":["Normal","Cancer"],"range":["#d9d9d9","#808080"]},"legend":null}}},
   {"mark":{"type":"tick","size":30,"thickness":2},"encoding":{"y":{"field":"med","type":"quantitative"},"color":{"field":"g","type":"nominal","scale":{"domain":["Normal","Cancer"],"range":["#6e6e6e","#474747"]},"legend":null}}}]},
  {"data":{"name":"out"},"transform":[{"filter":"datum.gene=='HDAC2'"}],"mark":{"type":"point","filled":true,"fill":"#8a8a8a","stroke":"#333","strokeWidth":1.5,"size":30,"opacity":1},"encoding":{"y":{"field":"v","type":"quantitative"}}},
  {"data":{"name":"brk"},"transform":[{"filter":"datum.gene=='HDAC2'"}],"mark":{"type":"line","color":"#222","strokeWidth":1.5,"clip":false},"encoding":{"y":{"field":"v","type":"quantitative"},"order":{"field":"o"}}}]},
{"width":151,"height":166,"view":{"stroke":"#222","strokeWidth":1.5},"title":{"text":"HDAC2 expression","anchor":"start","dx":8,"offset":2},
 "encoding":{"x":{"field":"t","type":"quantitative","scale":{"domain":[-2.5,62],"nice":false},"axis":{"values":[0,10,20,30,40,50,60],"title":"Time (Months)","domain":false,"labelPadding":6,"titlePadding":5,"titleX":157,"titleAlign":"right"}},
  "y":{"field":"s","type":"quantitative","scale":{"domain":[-5.5,106.5],"nice":false},"axis":{"values":[0,20,40,60,80,100],"title":"Overall survival rate (%)","domain":false,"titlePadding":6,"labelPadding":2}}},
 "layer":[
  {"data":{"name":"km"},"transform":[{"filter":"datum.gene=='HDAC2'"}],"mark":{"type":"line","interpolate":"step-after","strokeWidth":1.5},"encoding":{"color":{"field":"grp","type":"nominal","scale":{"domain":["Low","High"],"range":["#2424ff","#ff2424"]},"legend":null}}},
  {"data":{"name":"kmtxt"},"transform":[{"filter":"datum.gene=='HDAC2'"}],"mark":{"type":"text","fontSize":10},"encoding":{"text":{"field":"label"},"color":{"field":"grp","type":"nominal","scale":{"domain":["Low","High"],"range":["#2424ff","#ff2424"]},"legend":null}}},
  {"data":{"name":"kmp"},"transform":[{"filter":"datum.gene=='HDAC2'"}],"mark":{"type":"text","fontSize":12,"color":"#222"},"encoding":{"text":{"field":"label"}}}]},
{"width":116,"height":164,"title":{"text":"HMGB1","fontStyle":"italic","subtitle":"p < 0.001"},
 "encoding":{"x":{"field":"g","type":"nominal","scale":{"domain":["Normal","Cancer"],"paddingInner":0.05,"paddingOuter":0.1},"axis":{"title":null,"labelAngle":0,"ticks":false,"labelPadding":9,"labelLineHeight":14.5,"labelBaseline":"top","labelExpr":"datum.value == 'Normal' ? ['Normal','Tissue','(n = 39)'] : ['Cancer','Tissue','(n = 39)']"}}},
 "layer":[
  {"data":{"name":"box"},"transform":[{"filter":"datum.gene=='HMGB1'"}],"layer":[
   {"mark":{"type":"rule","color":"#222","strokeWidth":1.5},"encoding":{"y":{"field":"lo","type":"quantitative","scale":{"domain":[7.22,12.25],"nice":false,"zero":false},"axis":{"values":[8,9,10,11,12],"format":"d","title":"Signal intensity","titlePadding":8,"labelPadding":3}},"y2":{"field":"q1"}}},
   {"mark":{"type":"rule","color":"#222","strokeWidth":1.5},"encoding":{"y":{"field":"q3","type":"quantitative"},"y2":{"field":"hi"}}},
   {"mark":{"type":"tick","color":"#222","size":24,"thickness":1.5},"encoding":{"y":{"field":"lo","type":"quantitative"}}},
   {"mark":{"type":"tick","color":"#222","size":24,"thickness":1.5},"encoding":{"y":{"field":"hi","type":"quantitative"}}},
   {"mark":{"type":"bar","size":30,"stroke":"#555","strokeWidth":1.5},"encoding":{"y":{"field":"q1","type":"quantitative"},"y2":{"field":"q3"},"fill":{"field":"g","type":"nominal","scale":{"domain":["Normal","Cancer"],"range":["#d9d9d9","#808080"]},"legend":null}}},
   {"mark":{"type":"tick","size":30,"thickness":2},"encoding":{"y":{"field":"med","type":"quantitative"},"color":{"field":"g","type":"nominal","scale":{"domain":["Normal","Cancer"],"range":["#6e6e6e","#474747"]},"legend":null}}}]},
  {"data":{"name":"out"},"transform":[{"filter":"datum.gene=='HMGB1'"}],"mark":{"type":"point","filled":true,"fill":"#8a8a8a","stroke":"#333","strokeWidth":1.5,"size":30,"opacity":1},"encoding":{"y":{"field":"v","type":"quantitative"}}},
  {"data":{"name":"brk"},"transform":[{"filter":"datum.gene=='HMGB1'"}],"mark":{"type":"line","color":"#222","strokeWidth":1.5,"clip":false},"encoding":{"y":{"field":"v","type":"quantitative"},"order":{"field":"o"}}}]},
{"width":151,"height":166,"view":{"stroke":"#222","strokeWidth":1.5},"title":{"text":"HMGB1 expression","anchor":"start","dx":8,"offset":2},
 "encoding":{"x":{"field":"t","type":"quantitative","scale":{"domain":[-2.5,62],"nice":false},"axis":{"values":[0,10,20,30,40,50,60],"title":"Time (Months)","domain":false,"labelPadding":6,"titlePadding":5,"titleX":157,"titleAlign":"right"}},
  "y":{"field":"s","type":"quantitative","scale":{"domain":[-5.5,106.5],"nice":false},"axis":{"values":[0,20,40,60,80,100],"title":"Overall survival rate (%)","domain":false,"titlePadding":6,"labelPadding":2}}},
 "layer":[
  {"data":{"name":"km"},"transform":[{"filter":"datum.gene=='HMGB1'"}],"mark":{"type":"line","interpolate":"step-after","strokeWidth":1.5},"encoding":{"color":{"field":"grp","type":"nominal","scale":{"domain":["Low","High"],"range":["#2424ff","#ff2424"]},"legend":null}}},
  {"data":{"name":"kmtxt"},"transform":[{"filter":"datum.gene=='HMGB1'"}],"mark":{"type":"text","fontSize":10},"encoding":{"text":{"field":"label"},"color":{"field":"grp","type":"nominal","scale":{"domain":["Low","High"],"range":["#2424ff","#ff2424"]},"legend":null}}},
  {"data":{"name":"kmp"},"transform":[{"filter":"datum.gene=='HMGB1'"}],"mark":{"type":"text","fontSize":12,"color":"#222"},"encoding":{"text":{"field":"label"}}}]},
{"width":116,"height":164,"title":{"text":"HMGB2","fontStyle":"italic","subtitle":"p < 0.01","subtitleFontStyle":"italic"},
 "encoding":{"x":{"field":"g","type":"nominal","scale":{"domain":["Normal","Cancer"],"paddingInner":0.05,"paddingOuter":0.1},"axis":{"title":null,"labelAngle":0,"ticks":false,"labelPadding":9,"labelLineHeight":14.5,"labelBaseline":"top","labelExpr":"datum.value == 'Normal' ? ['Normal','Tissue','(n = 39)'] : ['Cancer','Tissue','(n = 39)']"}}},
 "layer":[
  {"data":{"name":"box"},"transform":[{"filter":"datum.gene=='HMGB2'"}],"layer":[
   {"mark":{"type":"rule","color":"#222","strokeWidth":1.5},"encoding":{"y":{"field":"lo","type":"quantitative","scale":{"domain":[4.82,8.95],"nice":false,"zero":false},"axis":{"values":[5,6,7,8],"format":"d","title":"Signal intensity","titlePadding":8,"labelPadding":3}},"y2":{"field":"q1"}}},
   {"mark":{"type":"rule","color":"#222","strokeWidth":1.5},"encoding":{"y":{"field":"q3","type":"quantitative"},"y2":{"field":"hi"}}},
   {"mark":{"type":"tick","color":"#222","size":24,"thickness":1.5},"encoding":{"y":{"field":"lo","type":"quantitative"}}},
   {"mark":{"type":"tick","color":"#222","size":24,"thickness":1.5},"encoding":{"y":{"field":"hi","type":"quantitative"}}},
   {"mark":{"type":"bar","size":30,"stroke":"#555","strokeWidth":1.5},"encoding":{"y":{"field":"q1","type":"quantitative"},"y2":{"field":"q3"},"fill":{"field":"g","type":"nominal","scale":{"domain":["Normal","Cancer"],"range":["#d9d9d9","#808080"]},"legend":null}}},
   {"mark":{"type":"tick","size":30,"thickness":2},"encoding":{"y":{"field":"med","type":"quantitative"},"color":{"field":"g","type":"nominal","scale":{"domain":["Normal","Cancer"],"range":["#6e6e6e","#474747"]},"legend":null}}}]},
  {"data":{"name":"out"},"transform":[{"filter":"datum.gene=='HMGB2'"}],"mark":{"type":"point","filled":true,"fill":"#8a8a8a","stroke":"#333","strokeWidth":1.5,"size":30,"opacity":1},"encoding":{"y":{"field":"v","type":"quantitative"}}},
  {"data":{"name":"brk"},"transform":[{"filter":"datum.gene=='HMGB2'"}],"mark":{"type":"line","color":"#222","strokeWidth":1.5,"clip":false},"encoding":{"y":{"field":"v","type":"quantitative"},"order":{"field":"o"}}}]},
{"width":151,"height":166,"view":{"stroke":"#222","strokeWidth":1.5},"title":{"text":"HMGB2 expression","anchor":"start","dx":8,"offset":2},
 "encoding":{"x":{"field":"t","type":"quantitative","scale":{"domain":[-2.5,62],"nice":false},"axis":{"values":[0,10,20,30,40,50,60],"title":"Time (Months)","domain":false,"labelPadding":6,"titlePadding":5,"titleX":157,"titleAlign":"right"}},
  "y":{"field":"s","type":"quantitative","scale":{"domain":[-5.5,106.5],"nice":false},"axis":{"values":[0,20,40,60,80,100],"title":"Overall survival rate (%)","domain":false,"titlePadding":6,"labelPadding":2}}},
 "layer":[
  {"data":{"name":"km"},"transform":[{"filter":"datum.gene=='HMGB2'"}],"mark":{"type":"line","interpolate":"step-after","strokeWidth":1.5},"encoding":{"color":{"field":"grp","type":"nominal","scale":{"domain":["Low","High"],"range":["#2424ff","#ff2424"]},"legend":null}}},
  {"data":{"name":"kmtxt"},"transform":[{"filter":"datum.gene=='HMGB2'"}],"mark":{"type":"text","fontSize":10},"encoding":{"text":{"field":"label"},"color":{"field":"grp","type":"nominal","scale":{"domain":["Low","High"],"range":["#2424ff","#ff2424"]},"legend":null}}},
  {"data":{"name":"kmp"},"transform":[{"filter":"datum.gene=='HMGB2'"}],"mark":{"type":"text","fontSize":12,"color":"#222"},"encoding":{"text":{"field":"label"}}}]},
{"width":116,"height":164,"title":{"text":"NFYA","fontStyle":"italic","subtitle":"p < 0.001"},
 "encoding":{"x":{"field":"g","type":"nominal","scale":{"domain":["Normal","Cancer"],"paddingInner":0.05,"paddingOuter":0.1},"axis":{"title":null,"labelAngle":0,"ticks":false,"labelPadding":9,"labelLineHeight":14.5,"labelBaseline":"top","labelExpr":"datum.value == 'Normal' ? ['Normal','Tissue','(n = 39)'] : ['Cancer','Tissue','(n = 39)']"}}},
 "layer":[
  {"data":{"name":"box"},"transform":[{"filter":"datum.gene=='NFYA'"}],"layer":[
   {"mark":{"type":"rule","color":"#222","strokeWidth":1.5},"encoding":{"y":{"field":"lo","type":"quantitative","scale":{"domain":[4.29,7.18],"nice":false,"zero":false},"axis":{"values":[5,6,7],"format":"d","title":"Signal intensity","titlePadding":8,"labelPadding":3}},"y2":{"field":"q1"}}},
   {"mark":{"type":"rule","color":"#222","strokeWidth":1.5},"encoding":{"y":{"field":"q3","type":"quantitative"},"y2":{"field":"hi"}}},
   {"mark":{"type":"tick","color":"#222","size":24,"thickness":1.5},"encoding":{"y":{"field":"lo","type":"quantitative"}}},
   {"mark":{"type":"tick","color":"#222","size":24,"thickness":1.5},"encoding":{"y":{"field":"hi","type":"quantitative"}}},
   {"mark":{"type":"bar","size":30,"stroke":"#555","strokeWidth":1.5},"encoding":{"y":{"field":"q1","type":"quantitative"},"y2":{"field":"q3"},"fill":{"field":"g","type":"nominal","scale":{"domain":["Normal","Cancer"],"range":["#d9d9d9","#808080"]},"legend":null}}},
   {"mark":{"type":"tick","size":30,"thickness":2},"encoding":{"y":{"field":"med","type":"quantitative"},"color":{"field":"g","type":"nominal","scale":{"domain":["Normal","Cancer"],"range":["#6e6e6e","#474747"]},"legend":null}}}]},
  {"data":{"name":"brk"},"transform":[{"filter":"datum.gene=='NFYA'"}],"mark":{"type":"line","color":"#222","strokeWidth":1.5,"clip":false},"encoding":{"y":{"field":"v","type":"quantitative"},"order":{"field":"o"}}}]},
{"width":151,"height":166,"view":{"stroke":"#222","strokeWidth":1.5},"title":{"text":"NFYA expression","anchor":"start","dx":8,"offset":2},
 "encoding":{"x":{"field":"t","type":"quantitative","scale":{"domain":[-2.5,62],"nice":false},"axis":{"values":[0,10,20,30,40,50,60],"title":"Time (Months)","domain":false,"labelPadding":6,"titlePadding":5,"titleX":157,"titleAlign":"right"}},
  "y":{"field":"s","type":"quantitative","scale":{"domain":[-5.5,106.5],"nice":false},"axis":{"values":[0,20,40,60,80,100],"title":"Overall survival rate (%)","domain":false,"titlePadding":6,"labelPadding":2}}},
 "layer":[
  {"data":{"name":"km"},"transform":[{"filter":"datum.gene=='NFYA'"}],"mark":{"type":"line","interpolate":"step-after","strokeWidth":1.5},"encoding":{"color":{"field":"grp","type":"nominal","scale":{"domain":["Low","High"],"range":["#2424ff","#ff2424"]},"legend":null}}},
  {"data":{"name":"kmtxt"},"transform":[{"filter":"datum.gene=='NFYA'"}],"mark":{"type":"text","fontSize":10},"encoding":{"text":{"field":"label"},"color":{"field":"grp","type":"nominal","scale":{"domain":["Low","High"],"range":["#2424ff","#ff2424"]},"legend":null}}},
  {"data":{"name":"kmp"},"transform":[{"filter":"datum.gene=='NFYA'"}],"mark":{"type":"text","fontSize":12,"color":"#222"},"encoding":{"text":{"field":"label"}}}]},
{"width":116,"height":164,"title":{"text":"NFYB","fontStyle":"italic","subtitle":"p < 0.001"},
 "encoding":{"x":{"field":"g","type":"nominal","scale":{"domain":["Normal","Cancer"],"paddingInner":0.05,"paddingOuter":0.1},"axis":{"title":null,"labelAngle":0,"ticks":false,"labelPadding":9,"labelLineHeight":14.5,"labelBaseline":"top","labelExpr":"datum.value == 'Normal' ? ['Normal','Tissue','(n = 39)'] : ['Cancer','Tissue','(n = 39)']"}}},
 "layer":[
  {"data":{"name":"box"},"transform":[{"filter":"datum.gene=='NFYB'"}],"layer":[
   {"mark":{"type":"rule","color":"#222","strokeWidth":1.5},"encoding":{"y":{"field":"lo","type":"quantitative","scale":{"domain":[4.08,8.85],"nice":false,"zero":false},"axis":{"values":[5,6,7,8],"format":"d","title":"Signal intensity","titlePadding":8,"labelPadding":3}},"y2":{"field":"q1"}}},
   {"mark":{"type":"rule","color":"#222","strokeWidth":1.5},"encoding":{"y":{"field":"q3","type":"quantitative"},"y2":{"field":"hi"}}},
   {"mark":{"type":"tick","color":"#222","size":24,"thickness":1.5},"encoding":{"y":{"field":"lo","type":"quantitative"}}},
   {"mark":{"type":"tick","color":"#222","size":24,"thickness":1.5},"encoding":{"y":{"field":"hi","type":"quantitative"}}},
   {"mark":{"type":"bar","size":30,"stroke":"#555","strokeWidth":1.5},"encoding":{"y":{"field":"q1","type":"quantitative"},"y2":{"field":"q3"},"fill":{"field":"g","type":"nominal","scale":{"domain":["Normal","Cancer"],"range":["#d9d9d9","#808080"]},"legend":null}}},
   {"mark":{"type":"tick","size":30,"thickness":2},"encoding":{"y":{"field":"med","type":"quantitative"},"color":{"field":"g","type":"nominal","scale":{"domain":["Normal","Cancer"],"range":["#6e6e6e","#474747"]},"legend":null}}}]},
  {"data":{"name":"out"},"transform":[{"filter":"datum.gene=='NFYB'"}],"mark":{"type":"point","filled":true,"fill":"#8a8a8a","stroke":"#333","strokeWidth":1.5,"size":30,"opacity":1},"encoding":{"y":{"field":"v","type":"quantitative"}}},
  {"data":{"name":"brk"},"transform":[{"filter":"datum.gene=='NFYB'"}],"mark":{"type":"line","color":"#222","strokeWidth":1.5,"clip":false},"encoding":{"y":{"field":"v","type":"quantitative"},"order":{"field":"o"}}}]},
{"width":151,"height":166,"view":{"stroke":"#222","strokeWidth":1.5},"title":{"text":"NFYB expression","anchor":"start","dx":8,"offset":2},
 "encoding":{"x":{"field":"t","type":"quantitative","scale":{"domain":[-2.5,62],"nice":false},"axis":{"values":[0,10,20,30,40,50,60],"title":"Time (Months)","domain":false,"labelPadding":6,"titlePadding":5,"titleX":157,"titleAlign":"right"}},
  "y":{"field":"s","type":"quantitative","scale":{"domain":[-5.5,106.5],"nice":false},"axis":{"values":[0,20,40,60,80,100],"title":"Overall survival rate (%)","domain":false,"titlePadding":6,"labelPadding":2}}},
 "layer":[
  {"data":{"name":"km"},"transform":[{"filter":"datum.gene=='NFYB'"}],"mark":{"type":"line","interpolate":"step-after","strokeWidth":1.5},"encoding":{"color":{"field":"grp","type":"nominal","scale":{"domain":["Low","High"],"range":["#2424ff","#ff2424"]},"legend":null}}},
  {"data":{"name":"kmtxt"},"transform":[{"filter":"datum.gene=='NFYB'"}],"mark":{"type":"text","fontSize":10},"encoding":{"text":{"field":"label"},"color":{"field":"grp","type":"nominal","scale":{"domain":["Low","High"],"range":["#2424ff","#ff2424"]},"legend":null}}},
  {"data":{"name":"kmp"},"transform":[{"filter":"datum.gene=='NFYB'"}],"mark":{"type":"text","fontSize":12,"color":"#222"},"encoding":{"text":{"field":"label"}}}]},
{"width":116,"height":164,"title":{"text":"NFYC","fontStyle":"italic","subtitle":"p < 0.01"},
 "encoding":{"x":{"field":"g","type":"nominal","scale":{"domain":["Normal","Cancer"],"paddingInner":0.05,"paddingOuter":0.1},"axis":{"title":null,"labelAngle":0,"ticks":false,"labelPadding":9,"labelLineHeight":14.5,"labelBaseline":"top","labelExpr":"datum.value == 'Normal' ? ['Normal','Tissue','(n = 39)'] : ['Cancer','Tissue','(n = 39)']"}}},
 "layer":[
  {"data":{"name":"box"},"transform":[{"filter":"datum.gene=='NFYC'"}],"layer":[
   {"mark":{"type":"rule","color":"#222","strokeWidth":1.5},"encoding":{"y":{"field":"lo","type":"quantitative","scale":{"domain":[5.08,7.71],"nice":false,"zero":false},"axis":{"values":[5.5,6,6.5,7,7.5],"format":".1f","title":"Signal intensity","titlePadding":8,"labelPadding":3}},"y2":{"field":"q1"}}},
   {"mark":{"type":"rule","color":"#222","strokeWidth":1.5},"encoding":{"y":{"field":"q3","type":"quantitative"},"y2":{"field":"hi"}}},
   {"mark":{"type":"tick","color":"#222","size":24,"thickness":1.5},"encoding":{"y":{"field":"lo","type":"quantitative"}}},
   {"mark":{"type":"tick","color":"#222","size":24,"thickness":1.5},"encoding":{"y":{"field":"hi","type":"quantitative"}}},
   {"mark":{"type":"bar","size":30,"stroke":"#555","strokeWidth":1.5},"encoding":{"y":{"field":"q1","type":"quantitative"},"y2":{"field":"q3"},"fill":{"field":"g","type":"nominal","scale":{"domain":["Normal","Cancer"],"range":["#d9d9d9","#808080"]},"legend":null}}},
   {"mark":{"type":"tick","size":30,"thickness":2},"encoding":{"y":{"field":"med","type":"quantitative"},"color":{"field":"g","type":"nominal","scale":{"domain":["Normal","Cancer"],"range":["#6e6e6e","#474747"]},"legend":null}}}]},
  {"data":{"name":"out"},"transform":[{"filter":"datum.gene=='NFYC'"}],"mark":{"type":"point","filled":true,"fill":"#8a8a8a","stroke":"#333","strokeWidth":1.5,"size":30,"opacity":1},"encoding":{"y":{"field":"v","type":"quantitative"}}},
  {"data":{"name":"brk"},"transform":[{"filter":"datum.gene=='NFYC'"}],"mark":{"type":"line","color":"#222","strokeWidth":1.5,"clip":false},"encoding":{"y":{"field":"v","type":"quantitative"},"order":{"field":"o"}}}]},
{"width":151,"height":166,"view":{"stroke":"#222","strokeWidth":1.5},"title":{"text":"NFYC expression","anchor":"start","dx":8,"offset":2},
 "encoding":{"x":{"field":"t","type":"quantitative","scale":{"domain":[-2.5,62],"nice":false},"axis":{"values":[0,10,20,30,40,50,60],"title":"Time (Months)","domain":false,"labelPadding":6,"titlePadding":5,"titleX":157,"titleAlign":"right"}},
  "y":{"field":"s","type":"quantitative","scale":{"domain":[-5.5,106.5],"nice":false},"axis":{"values":[0,20,40,60,80,100],"title":"Overall survival rate (%)","domain":false,"titlePadding":6,"labelPadding":2}}},
 "layer":[
  {"data":{"name":"km"},"transform":[{"filter":"datum.gene=='NFYC'"}],"mark":{"type":"line","interpolate":"step-after","strokeWidth":1.5},"encoding":{"color":{"field":"grp","type":"nominal","scale":{"domain":["Low","High"],"range":["#2424ff","#ff2424"]},"legend":null}}},
  {"data":{"name":"kmtxt"},"transform":[{"filter":"datum.gene=='NFYC'"}],"mark":{"type":"text","fontSize":10},"encoding":{"text":{"field":"label"},"color":{"field":"grp","type":"nominal","scale":{"domain":["Low","High"],"range":["#2424ff","#ff2424"]},"legend":null}}},
  {"data":{"name":"kmp"},"transform":[{"filter":"datum.gene=='NFYC'"}],"mark":{"type":"text","fontSize":12,"color":"#222"},"encoding":{"text":{"field":"label"}}}]},
{"width":116,"height":164,"title":{"text":"SP1","fontStyle":"italic","subtitle":"p < 0.001","subtitleFontStyle":"italic"},
 "encoding":{"x":{"field":"g","type":"nominal","scale":{"domain":["Normal","Cancer"],"paddingInner":0.05,"paddingOuter":0.1},"axis":{"title":null,"labelAngle":0,"ticks":false,"labelPadding":9,"labelLineHeight":14.5,"labelBaseline":"top","labelExpr":"datum.value == 'Normal' ? ['Normal','Tissue','(n = 39)'] : ['Cancer','Tissue','(n = 39)']"}}},
 "layer":[
  {"data":{"name":"box"},"transform":[{"filter":"datum.gene=='SP1'"}],"layer":[
   {"mark":{"type":"rule","color":"#222","strokeWidth":1.5},"encoding":{"y":{"field":"lo","type":"quantitative","scale":{"domain":[5.6,8.24],"nice":false,"zero":false},"axis":{"values":[6,7,8],"format":"d","title":"Signal intensity","titlePadding":8,"labelPadding":3}},"y2":{"field":"q1"}}},
   {"mark":{"type":"rule","color":"#222","strokeWidth":1.5},"encoding":{"y":{"field":"q3","type":"quantitative"},"y2":{"field":"hi"}}},
   {"mark":{"type":"tick","color":"#222","size":24,"thickness":1.5},"encoding":{"y":{"field":"lo","type":"quantitative"}}},
   {"mark":{"type":"tick","color":"#222","size":24,"thickness":1.5},"encoding":{"y":{"field":"hi","type":"quantitative"}}},
   {"mark":{"type":"bar","size":30,"stroke":"#555","strokeWidth":1.5},"encoding":{"y":{"field":"q1","type":"quantitative"},"y2":{"field":"q3"},"fill":{"field":"g","type":"nominal","scale":{"domain":["Normal","Cancer"],"range":["#d9d9d9","#808080"]},"legend":null}}},
   {"mark":{"type":"tick","size":30,"thickness":2},"encoding":{"y":{"field":"med","type":"quantitative"},"color":{"field":"g","type":"nominal","scale":{"domain":["Normal","Cancer"],"range":["#6e6e6e","#474747"]},"legend":null}}}]},
  {"data":{"name":"brk"},"transform":[{"filter":"datum.gene=='SP1'"}],"mark":{"type":"line","color":"#222","strokeWidth":1.5,"clip":false},"encoding":{"y":{"field":"v","type":"quantitative"},"order":{"field":"o"}}}]},
{"width":151,"height":166,"view":{"stroke":"#222","strokeWidth":1.5},"title":{"text":"SP1 expression","anchor":"start","dx":8,"offset":2},
 "encoding":{"x":{"field":"t","type":"quantitative","scale":{"domain":[-2.5,62],"nice":false},"axis":{"values":[0,10,20,30,40,50,60],"title":"Time (Months)","domain":false,"labelPadding":6,"titlePadding":5,"titleX":157,"titleAlign":"right"}},
  "y":{"field":"s","type":"quantitative","scale":{"domain":[-5.5,106.5],"nice":false},"axis":{"values":[0,20,40,60,80,100],"title":"Overall survival rate (%)","domain":false,"titlePadding":6,"labelPadding":2}}},
 "layer":[
  {"data":{"name":"km"},"transform":[{"filter":"datum.gene=='SP1'"}],"mark":{"type":"line","interpolate":"step-after","strokeWidth":1.5},"encoding":{"color":{"field":"grp","type":"nominal","scale":{"domain":["Low","High"],"range":["#2424ff","#ff2424"]},"legend":null}}},
  {"data":{"name":"kmtxt"},"transform":[{"filter":"datum.gene=='SP1'"}],"mark":{"type":"text","fontSize":10},"encoding":{"text":{"field":"label"},"color":{"field":"grp","type":"nominal","scale":{"domain":["Low","High"],"range":["#2424ff","#ff2424"]},"legend":null}}},
  {"data":{"name":"kmp"},"transform":[{"filter":"datum.gene=='SP1'"}],"mark":{"type":"text","fontSize":12,"color":"#222"},"encoding":{"text":{"field":"label"}}}]}
]
}
